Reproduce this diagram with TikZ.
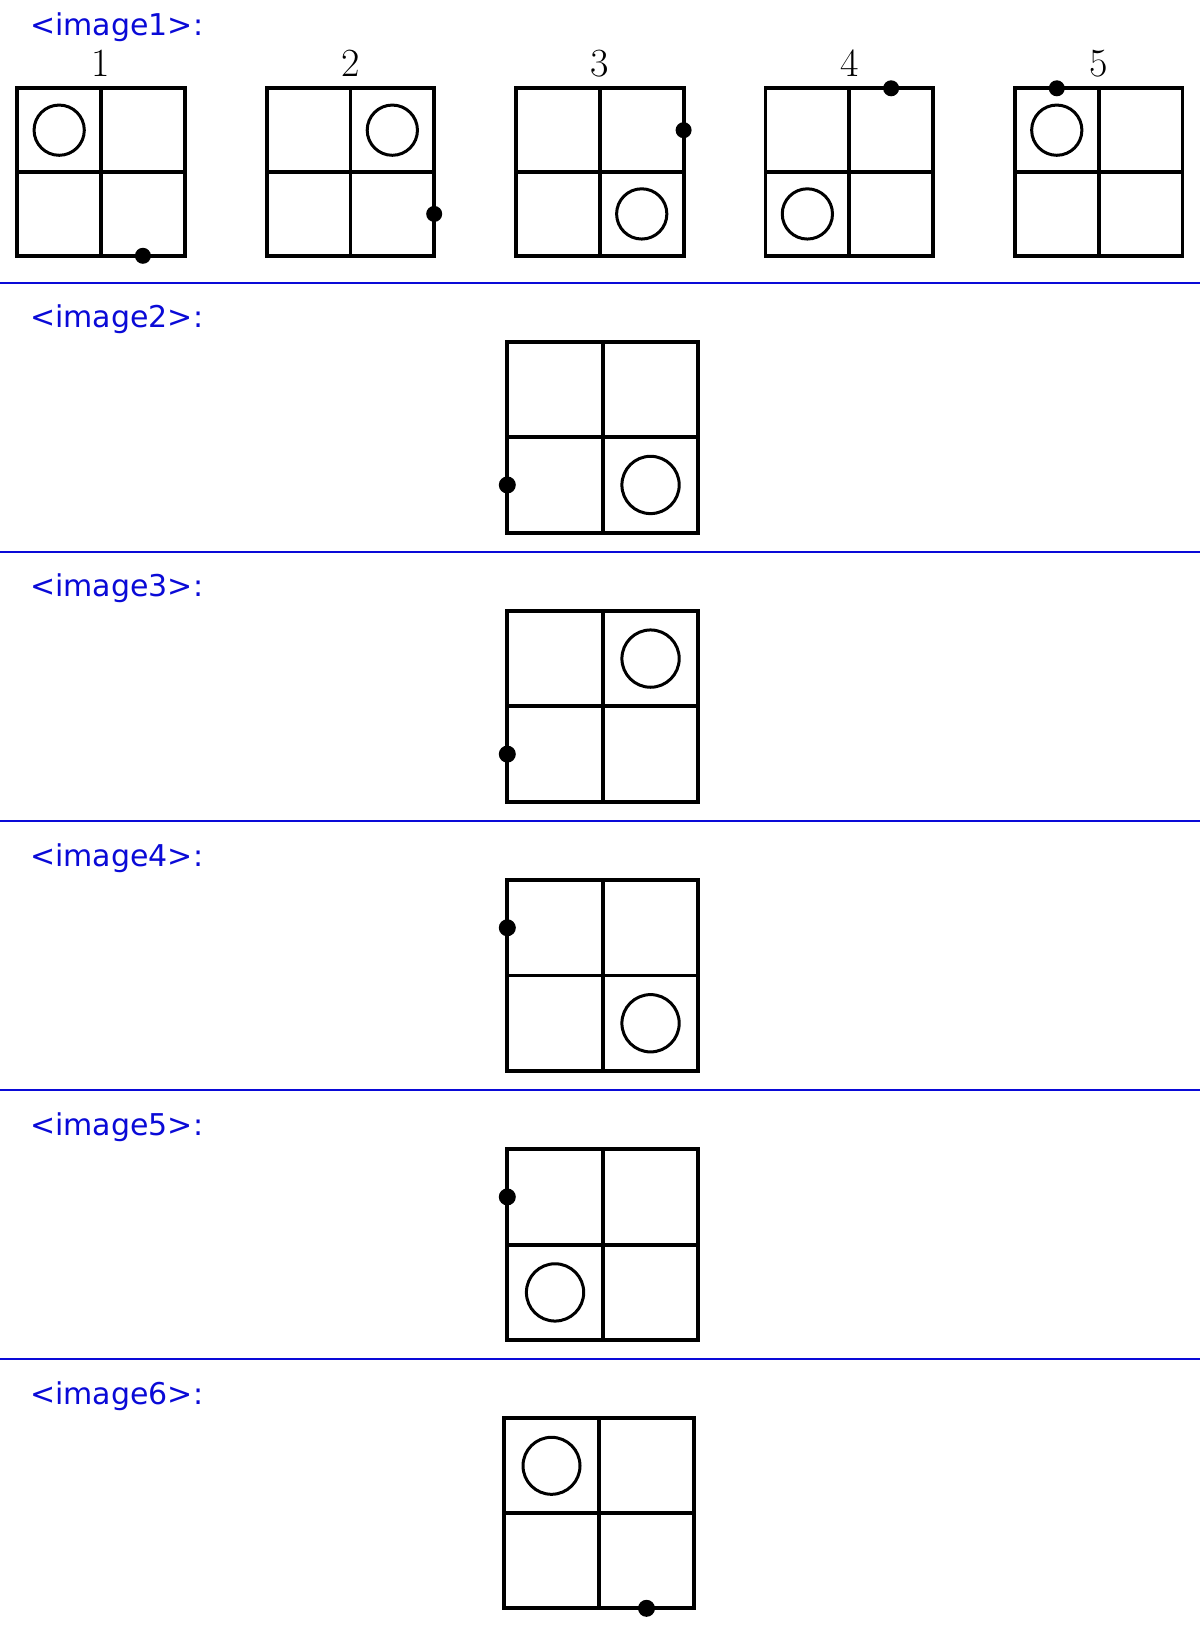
\documentclass[tikz,border=0pt]{standalone}
\usepackage{fontspec}
\newfontfamily\tagfont{DejaVu Sans}
\usepackage{xcolor}
\usepackage{tikz}
\definecolor{tagblue}{RGB}{10,10,215}

\begin{document}
\begin{tikzpicture}[x=1pt, y=-1pt]
    \useasboundingbox[fill=white] (0,0) rectangle (1200,1627);
    \tikzset{
      tagtext/.style={anchor=base west, inner sep=0pt, text=tagblue,
        font=\tagfont\fontsize{30}{36}\selectfont},
      board/.style={line width=3.8pt, black},
      ring/.style={line width=3pt, black}
    }
    % separators between the images
    \foreach \k in {0,...,4}{
      \draw[tagblue, line width=2.3pt] (0,{282.7+269.15*\k}) -- (1200,{282.7+269.15*\k});
    }
    % image 1: five numbered boards
    \node[tagtext] (tag1) at (30,36) {<image1>:};
    \foreach \n/\cx/\cy/\dx/\dy in {1/0.5/0.5/1.5/2, 2/1.5/0.5/2/1.5,
      3/1.5/1.5/2/0.5, 4/0.5/1.5/1.5/0, 5/0.5/0.5/0.5/0}{
      \node[anchor=base, inner sep=0pt, font=\fontsize{40}{48}\selectfont]
        (num\n) at ({17.3+249.4*(\n-1)+83.75},77) {\n};
      \begin{scope}[shift={({17.3+249.4*(\n-1)},88.3)}, x=83.75pt, y=-83.75pt]
        \draw[board] (0,0) rectangle (2,2) (1,0) -- (1,2) (0,1) -- (2,1);
        \draw[ring] (\cx,\cy) circle[radius=0.3];
        \fill (\dx,\dy) circle[radius=8pt];
      \end{scope}
    }
    % images 2 to 6: one board each
    \foreach \r/\left/\cell/\cx/\cy/\dx/\dy in {2/507.3/95.5/1.5/1.5/0/1.5,
      3/507.3/95.5/1.5/0.5/0/1.5, 4/507.3/95.5/1.5/1.5/0/0.5,
      5/507.3/95.5/0.5/1.5/0/0.5, 6/504/95/0.5/0.5/1.5/2}{
      \node[tagtext] (tag\r) at (30,{282.7+269.15*(\r-2)+45}) {<image\r>:};
      \begin{scope}[shift={(\left,{341.7+269.15*(\r-2)})}, x=\cell pt, y=-\cell pt]
        \draw[board] (0,0) rectangle (2,2) (1,0) -- (1,2) (0,1) -- (2,1);
        \draw[ring] (\cx,\cy) circle[radius=0.3];
        \fill (\dx,\dy) circle[radius=8.5pt];
      \end{scope}
    }
  \end{tikzpicture}
\end{document}
